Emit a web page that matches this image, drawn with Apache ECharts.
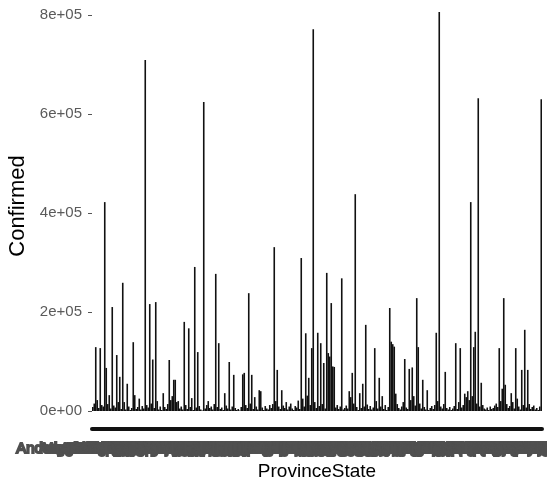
<!DOCTYPE html>
<html>
<head>
<meta charset="utf-8">
<script src="https://cdn.jsdelivr.net/npm/echarts@6/dist/echarts.min.js"></script>
<style>
  html, body { margin: 0; padding: 0; background: #ffffff; }
  #chart { width: 547px; height: 486px; }
</style>
</head>
<body>
<div id="chart"></div>
<script>
// Province / state names along the x axis
const provinces = [
  "Abruzzo", "Acre", "Adygea Republic", "Aguascalientes", "Aichi", "Akita", "Alabama", "Alagoas", "Alaska", "Alberta",
  "Altai Krai", "Altai Republic", "Amapa", "Amazonas", "Amur Oblast", "Andalusia", "Andaman and Nicobar Islands", "Andhra Pradesh", "Anguilla", "Anhui",
  "Antioquia", "Antofagasta", "Aomori", "Apurimac", "Aragon", "Araucania", "Arequipa", "Arizona", "Arkansas", "Arkhangelsk Oblast",
  "Aruba", "Arunachal Pradesh", "Assam", "Astrakhan Oblast", "Asturias", "Atacama", "Atlantico", "Australian Capital Territory", "Ayacucho", "Aysen",
  "Azad Jammu and Kashmir", "Baden-Wurttemberg", "Bahia", "Baja California", "Baja California Sur", "Balochistan", "Bashkortostan Republic", "Basilicata", "Bavaria", "Beijing",
  "Belgorod Oblast", "Berlin", "Bermuda", "Bihar", "Biobio", "Blekinge", "Bogota", "Bolivar", "Bonaire, Sint Eustatius and Saba", "Boyaca",
  "Brandenburg", "Bremen", "British Columbia", "Bryansk Oblast", "Buryatia Republic", "Cajamarca", "Calabria", "Caldas", "California", "Callao",
  "Campania", "Campeche", "Canary Islands", "Cantabria", "Caqueta", "Casanare", "Castilla - La Mancha", "Castile and Leon", "Catalonia", "Cauca",
  "Cayman Islands", "Ceara", "Cesar", "Chandigarh", "Channel Islands", "Chechen Republic", "Chelyabinsk Oblast", "Cherkasy Oblast", "Chernihiv Oblast", "Chernivtsi Oblast",
  "Chhattisgarh", "Chiapas", "Chiba", "Chihuahua", "Chongqing", "Chukotka Autonomous Okrug", "Chuvashia Republic", "Coahuila", "Colima", "Colorado",
  "Connecticut", "Coquimbo", "Cordoba", "Crimea Republic", "Cundinamarca", "Curacao", "Cusco", "Dadra and Nagar Haveli and Daman and Diu", "Dagestan Republic", "Dalarna",
  "Delaware", "Delhi", "Diamond Princess", "Distrito Federal", "District of Columbia", "Dnipropetrovsk Oblast", "Donetsk Oblast", "Durango", "Emilia-Romagna", "Espirito Santo",
  "Extremadura", "Falkland Islands (Malvinas)", "Faroe Islands", "Florida", "French Guiana", "French Polynesia", "Friuli Venezia Giulia", "Fujian", "Fukuoka", "Fukushima",
  "Galicia", "Gansu", "Gavleborg", "Georgia", "Gibraltar", "Gilgit-Baltistan", "Goa", "Goias", "Grand Princess", "Greenland",
  "Guadeloupe", "Guam", "Guanajuato", "Guangdong", "Guangxi", "Guerrero", "Guizhou", "Gujarat", "Hainan", "Halland",
  "Hamburg", "Haryana", "Hawaii", "Hebei", "Heilongjiang", "Henan", "Hesse", "Hidalgo", "Himachal Pradesh", "Hiroshima",
  "Hokkaido", "Hong Kong", "Huanuco", "Hubei", "Huila", "Hunan", "Hyogo", "Ibaraki", "Ica", "Idaho",
  "Illinois", "Indiana", "Inner Mongolia", "Iowa", "Irkutsk Oblast", "Isle of Man", "Islamabad", "Jalisco", "Jammu and Kashmir", "Jharkhand",
  "Jiangsu", "Jiangxi", "Jilin", "Jonkoping", "Junin", "Kaliningrad Oblast", "Kanagawa", "Kansas", "Karnataka", "Kentucky",
  "Kerala", "Khabarovsk Krai", "Kharkiv Oblast", "Khyber Pakhtunkhwa", "Kyiv", "La Libertad", "La Rioja", "Ladakh", "Lambayeque", "Lazio",
  "Liguria", "Lima", "Liaoning", "Lombardia", "Loreto", "Louisiana", "Lower Saxony", "Macau", "Madhya Pradesh", "Madrid",
  "Maharashtra", "Maine", "Manipur", "Manitoba", "Maranhao", "Marche", "Martinique", "Maryland", "Massachusetts", "Mato Grosso",
  "Mato Grosso do Sul", "Mayotte", "Meghalaya", "Mexico", "Michigan", "Michoacan", "Minas Gerais", "Minnesota", "Mississippi", "Missouri",
  "Mizoram", "Molise", "Montana", "Montserrat", "Morelos", "Moscow", "Murcia", "Nagaland", "Narino", "Navarra",
  "Nayarit", "Nebraska", "Nevada", "New Brunswick", "New Caledonia", "New Hampshire", "New Jersey", "New Mexico", "New South Wales", "New York",
  "Newfoundland and Labrador", "Ningxia", "Norte de Santander", "North Carolina", "North Dakota", "North Rhine-Westphalia", "Northern Territory", "Northwest Territories", "Nova Scotia", "Nuevo Leon",
  "Nunavut", "Oaxaca", "Odisha", "Ohio", "Oklahoma", "Ontario", "Oregon", "Osaka", "Para", "Paraiba",
  "Parana", "Pennsylvania", "Pernambuco", "Piaui", "Piemonte", "Prince Edward Island", "Puducherry", "Puebla", "Puerto Rico", "Punjab",
  "Qinghai", "Quebec", "Queensland", "Rajasthan", "Reunion", "Rhode Island", "Rio de Janeiro", "Rio Grande do Norte", "Rio Grande do Sul", "Rondonia",
  "Saint Helena, Ascension and Tristan da Cunha", "Saint Pierre and Miquelon", "Santa Catarina", "Sao Paulo", "Saskatchewan", "Shaanxi", "Shandong", "Shanghai", "Shanxi", "Sichuan"
];

// Confirmed cases per province / state
const confirmed = [
  8000, 15000, 129000, 22000, 6000, 127000, 12000, 9000, 422000, 87000,
  14000, 32000, 5000, 210000, 11000, 7000, 113000, 18000, 69000, 4000,
  259000, 18000, 3000, 55000, 9000, 2000, 6000, 139000, 32000, 4000,
  8000, 25000, 3000, 10000, 5000, 709000, 12000, 7000, 216000, 15000,
  104000, 6000, 220000, 20000, 3000, 9000, 2000, 36000, 8000, 4000,
  14000, 103000, 22000, 30000, 63000, 63000, 18000, 20000, 5000, 9000,
  3000, 180000, 12000, 4000, 167000, 8000, 26000, 2000, 291000, 7000,
  119000, 10000, 3000, 1000, 624000, 5000, 12000, 20000, 6000, 9000,
  3000, 14000, 277000, 8000, 137000, 4000, 7000, 2000, 36000, 11000,
  5000, 99000, 3000, 9000, 73000, 6000, 2000, 4000, 1000, 8000,
  74000, 77000, 12000, 6000, 238000, 15000, 73000, 4000, 28000, 9000,
  3000, 42000, 40000, 7000, 2000, 10000, 5000, 3000, 12000, 6000,
  14000, 331000, 20000, 83000, 9000, 4000, 42000, 11000, 6000, 18000,
  3000, 9000, 15000, 5000, 2000, 10000, 7000, 21000, 4000, 309000,
  25000, 9000, 157000, 31000, 67000, 12000, 127000, 771000, 18000, 6000,
  158000, 10000, 137000, 14000, 97000, 5000, 279000, 117000, 110000, 218000,
  90000, 89000, 7000, 12000, 4000, 9000, 268000, 3000, 6000, 11000,
  5000, 40000, 28000, 77000, 15000, 438000, 8000, 2000, 36000, 6000,
  55000, 9000, 174000, 13000, 4000, 10000, 3000, 7000, 127000, 20000,
  5000, 67000, 9000, 30000, 4000, 12000, 2000, 8000, 208000, 140000,
  135000, 130000, 35000, 14000, 6000, 3000, 9000, 18000, 105000, 7000,
  4000, 85000, 22000, 88000, 30000, 11000, 228000, 129000, 15000, 5000,
  63000, 8000, 3000, 42000, 2000, 6000, 10000, 4000, 12000, 158000,
  20000, 806000, 9000, 5000, 14000, 79000, 6000, 3000, 8000, 2000,
  5000, 10000, 137000, 4000, 18000, 127000, 7000, 12000, 35000, 28000,
  40000, 22000, 422000, 30000, 129000, 160000, 15000, 632000, 9000, 57000,
  12000, 5000, 3000, 7000, 2000, 9000, 4000, 6000, 11000, 15000,
  8000, 127000, 20000, 45000, 228000, 53000, 14000, 6000, 10000, 36000,
  18000, 5000, 127000, 25000, 9000, 3000, 83000, 12000, 164000, 7000,
  83000, 14000, 4000, 8000, 11000, 3000, 6000, 2000, 9000, 630000
];

// y axis ticks and their labels (scientific notation)
const yTickValues = [0, 200000, 400000, 600000, 800000];
const yTickLabels = ["0e+00", "2e+05", "4e+05", "6e+05", "8e+05"];

const chart = echarts.init(document.getElementById('chart'), null, { renderer: 'canvas' });

const textFont = '"Liberation Sans", Arial, Helvetica, sans-serif';

chart.setOption({
  animation: false,
  backgroundColor: '#ffffff',
  grid: {
    left: 92,
    right: 5,
    top: 5,
    bottom: 57,
    containLabel: false,
    outerBoundsMode: 'none'
  },
  xAxis: {
    type: 'category',
    data: provinces,
    name: 'ProvinceState',
    nameLocation: 'middle',
    nameGap: 31,
    nameTextStyle: { fontFamily: textFont, fontSize: 19, color: '#000000' },
    // the axis line plus one tick per category reads as a heavy rule
    axisLine: { show: true, onZero: false, lineStyle: { color: '#111111', width: 4 } },
    axisTick: { show: false },
    axisLabel: {
      show: true,
      interval: 0,
      hideOverlap: false,
      margin: 12,
      fontFamily: textFont,
      fontSize: 15,
      color: '#505050',
      textBorderColor: '#505050',
      textBorderWidth: 2
    },
    splitLine: { show: false }
  },
  yAxis: {
    type: 'value',
    min: -36400,
    max: 820200,
    name: 'Confirmed',
    nameLocation: 'middle',
    nameGap: 52,
    nameTextStyle: {
      fontFamily: textFont,
      fontSize: 22,
      color: '#000000',
      padding: [0, 0, 0, 22]
    },
    axisLine: { show: false },
    axisTick: {
      show: true,
      length: 4,
      customValues: yTickValues,
      lineStyle: { color: '#555555', width: 1 }
    },
    axisLabel: {
      show: true,
      margin: 10,
      customValues: yTickValues,
      fontFamily: textFont,
      fontSize: 15,
      color: '#5a5a5a',
      formatter: function (v) {
        const i = yTickValues.indexOf(v);
        return i >= 0 ? yTickLabels[i] : '';
      }
    },
    splitLine: { show: false }
  },
  series: [{
    type: 'bar',
    data: confirmed,
    barWidth: 1.6,
    itemStyle: { color: '#111111' },
    emphasis: { disabled: true }
  }]
});
</script>
</body>
</html>
